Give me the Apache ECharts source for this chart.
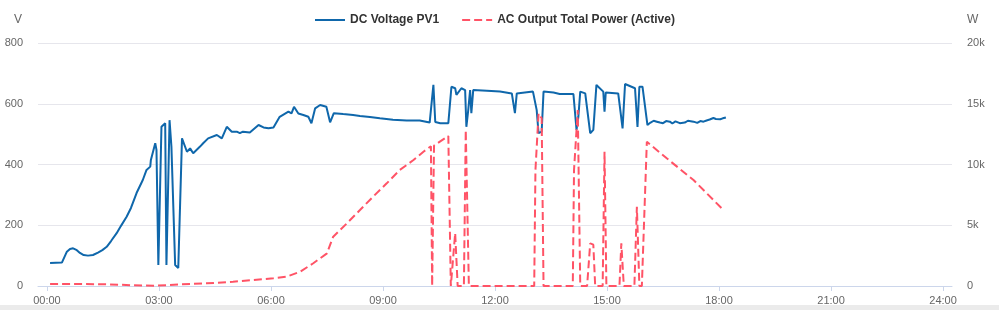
<!DOCTYPE html>
<html><head><meta charset="utf-8">
<script src="https://cdn.jsdelivr.net/npm/echarts@6/dist/echarts.min.js"></script>
<style>html,body{margin:0;padding:0;background:#fff;overflow:hidden}#c{width:999px;height:310px}</style>
</head><body><div id="c"></div><script>
// ---- data ----
const xTickHours = [0, 3, 6, 9, 12, 15, 18, 21, 24];
const xTickLabels = ['00:00', '03:00', '06:00', '09:00', '12:00', '15:00', '18:00', '21:00', '24:00'];
const leftTicks = [0, 200, 400, 600, 800];
const rightTicks = [0, 5000, 10000, 15000, 20000];

const seriesNames = ['DC Voltage PV1', 'AC Output Total Power (Active)'];

const voltTimes = ['00:05','00:24','00:27','00:32','00:37','00:42','00:48','00:53','00:59','01:06','01:14','01:22','01:29','01:36','01:43','01:52','01:59','02:08','02:15','02:24','02:34','02:40','02:46','02:47','02:54','02:56','02:59','03:04','03:10','03:12','03:17','03:20','03:26','03:31','03:37','03:45','03:50','03:55','04:06','04:11','04:19','04:33','04:41','04:49','04:57','05:05','05:10','05:15','05:26','05:40','05:48','05:56','06:04','06:14','06:28','06:33','06:37','06:44','06:52','07:00','07:05','07:11','07:19','07:29','07:35','07:41','07:56','08:12','08:23','08:39','08:55','09:16','09:38','09:59','10:15','10:21','10:24','10:32','10:45','10:50','10:56','10:58','11:06','11:12','11:14','11:17','11:20','11:22','11:25','11:47','12:08','12:27','12:32','12:35','13:01','13:07','13:10','13:15','13:18','13:34','13:44','14:06','14:11','14:14','14:17','14:25','14:33','14:38','14:43','14:54','14:56','14:58','15:18','15:25','15:29','15:45','15:49','15:52','15:57','16:05','16:10','16:15','16:20','16:25','16:30','16:35','16:41','16:45','16:50','16:57','17:05','17:10','17:19','17:25','17:30','17:35','17:40','17:45','17:51','17:55','18:02','18:06','18:11'];
const voltValues = [76,77,82,113,122,124,118,109,102,100,102,110,118,129,148,174,198,228,257,306,349,382,393,415,470,448,69,524,536,69,546,459,69,59,486,442,453,437,459,470,486,497,486,524,508,508,503,508,505,530,522,519,522,557,574,568,590,568,563,557,536,585,596,590,539,569,566,563,560,556,552,547,545,545,538,662,540,536,536,656,651,629,651,645,524,579,645,569,645,643,640,634,569,634,640,579,503,508,640,637,632,632,514,558,640,634,503,514,662,640,574,637,634,519,665,651,524,656,656,530,538,544,541,538,536,543,541,535,542,536,538,544,541,537,543,541,545,548,553,550,549,552,555];

const powerTimes = ['00:05','00:42','01:36','02:19','02:56','03:34','04:17','04:59','05:32','06:04','06:25','06:47','07:08','07:30','07:40','08:02','08:23','08:44','09:06','09:27','09:49','10:05','10:17','10:19','10:22','10:32','10:45','10:49','10:56','11:00','11:10','11:13','11:18','13:03','13:05','13:10','13:15','13:18','14:05','14:07','14:13','14:17','14:28','14:33','14:38','14:41','14:53','14:56','14:59','15:20','15:23','15:27','15:44','15:48','15:52','15:56','16:04','16:36','17:19','18:07'];
const powerValues = [165,165,140,60,25,140,220,350,490,630,770,1180,1870,2690,4060,5160,6250,7350,8450,9550,10370,11050,11500,0,11550,11900,12340,0,4340,0,0,12840,0,0,9550,14210,13800,0,0,9550,14490,0,0,3510,3400,0,0,11050,0,0,3510,0,0,6520,0,0,11870,10510,8720,6250];

// ---- build ----
function toHours(t) { const p = t.split(':'); return +p[0] + (+p[1]) / 60; }
const voltData = voltTimes.map((t, i) => [toHours(t), voltValues[i]]);
const powerData = powerTimes.map((t, i) => [toHours(t), powerValues[i]]);

const chart = echarts.init(document.getElementById('c'), null, { renderer: 'canvas' });
const font = 'Liberation Sans, Arial, sans-serif';
chart.setOption({
  animation: false,
  textStyle: { fontFamily: font },
  legend: {
    left: 309, top: 9,
    itemWidth: 30, itemHeight: 14, itemGap: 22,
    itemStyle: { color: 'transparent', borderWidth: 0, opacity: 0 },
    textStyle: { fontSize: 12, fontWeight: 'bold', color: '#333', fontFamily: font },
    data: seriesNames
  },
  grid: { left: 38, right: 47, top: 43, bottom: 24 },
  xAxis: {
    type: 'value', min: -0.24, max: 24.24,
    axisLine: { show: true, lineStyle: { color: '#ccd6eb', width: 1 } },
    axisTick: { show: true, customValues: xTickHours, length: 5, lineStyle: { color: '#ccd6eb' } },
    axisLabel: {
      customValues: xTickHours, color: '#666', fontSize: 11, margin: 9, fontFamily: font,
      formatter: v => xTickLabels[xTickHours.indexOf(Math.round(v))] || ''
    },
    splitLine: { show: false }
  },
  yAxis: [{
    type: 'value', min: leftTicks[0], max: leftTicks[leftTicks.length - 1], interval: leftTicks[1] - leftTicks[0],
    name: 'V', nameGap: 17,
    nameTextStyle: { color: '#666', fontSize: 12, align: 'right', padding: [0, 25, 0, 0], fontFamily: font },
    axisLine: { show: false }, axisTick: { show: false },
    axisLabel: { color: '#666', fontSize: 11, margin: 15, fontFamily: font },
    splitLine: { show: true, lineStyle: { color: '#e6e6ec', width: 1 } }
  }, {
    type: 'value', min: rightTicks[0], max: rightTicks[rightTicks.length - 1], interval: rightTicks[1] - rightTicks[0],
    name: 'W', nameGap: 17,
    nameTextStyle: { color: '#666', fontSize: 12, align: 'left', padding: [0, 0, 0, 15], fontFamily: font },
    axisLine: { show: false }, axisTick: { show: false },
    axisLabel: { color: '#666', fontSize: 11, margin: 15, fontFamily: font,
      formatter: v => v >= 1000 ? (v / 1000) + 'k' : String(v) },
    splitLine: { show: false }
  }],
  series: [{
    name: seriesNames[0], type: 'line', yAxisIndex: 0, data: voltData,
    symbol: 'none', showSymbol: false,
    lineStyle: { color: '#0f67ab', width: 2 }, itemStyle: { color: '#0f67ab' }
  }, {
    name: seriesNames[1], type: 'line', yAxisIndex: 1, data: powerData,
    symbol: 'none', showSymbol: false,
    lineStyle: { color: '#ff5366', width: 2, type: 'dashed' }, itemStyle: { color: '#ff5366' }
  }],
  graphic: [{
    type: 'rect', left: 0, top: 305, shape: { width: 999, height: 5 },
    style: { fill: '#ebebeb' }, silent: true
  }]
});
</script></body></html>
